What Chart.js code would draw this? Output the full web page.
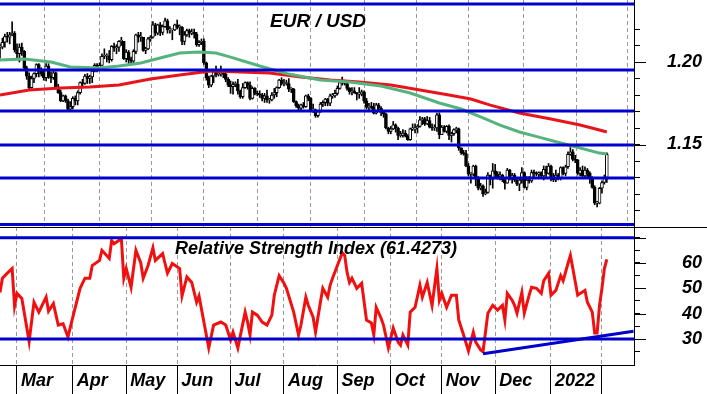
<!DOCTYPE html>
<html>
<head>
<meta charset="utf-8">
<script src="https://cdn.jsdelivr.net/npm/chart.js@4/dist/chart.umd.min.js"></script>
<style>
  html, body { margin: 0; padding: 0; background: #fff; }
  #wrap { position: relative; width: 707px; height: 394px; overflow: hidden; }
  #priceBox { position: absolute; left: 0; top: 0; width: 707px; height: 227px; }
  #rsiBox { position: absolute; left: 0; top: 227px; width: 707px; height: 167px; }
</style>
</head>
<body>
<div id="wrap">
  <div id="priceBox"><canvas id="priceChart" width="707" height="227"></canvas></div>
  <div id="rsiBox"><canvas id="rsiChart" width="707" height="167"></canvas></div>
</div>
<script>
// trading day index: 0 = 18 Feb 2021 ... 250 = 3 Feb 2022
const monthStarts = [7, 30, 52, 73, 95, 117, 139, 161, 182, 204, 227, 248];
const monthLabels = ['Mar', 'Apr', 'May', 'Jun', 'Jul', 'Aug', 'Sep', 'Oct', 'Nov', 'Dec', '2022', ''];

// daily EUR/USD, one row per month
const close = [
  1.2090, 1.2120, 1.2155, 1.2150, 1.2165, 1.2175, 1.2075,
  1.2050, 1.2090, 1.2065, 1.1965, 1.1915, 1.1845, 1.1900, 1.1930, 1.1985, 1.1950, 1.1930, 1.1905, 1.1975, 1.1915, 1.1905, 1.1935, 1.1850, 1.1815, 1.1765, 1.1795, 1.1765, 1.1715, 1.1730,
  1.1780, 1.1765, 1.1815, 1.1875, 1.1870, 1.1915, 1.1900, 1.1910, 1.1945, 1.1980, 1.1965, 1.1980, 1.2035, 1.2035, 1.2035, 1.2015, 1.2095, 1.2085, 1.2090, 1.2125, 1.2125, 1.2020,
  1.2060, 1.2015, 1.2005, 1.2065, 1.2165, 1.2150, 1.2150, 1.2070, 1.2080, 1.2140, 1.2150, 1.2225, 1.2175, 1.2225, 1.2180, 1.2215, 1.2250, 1.2195, 1.2195, 1.2195, 1.2225,
  1.2210, 1.2210, 1.2125, 1.2165, 1.2190, 1.2175, 1.2180, 1.2170, 1.2105, 1.2120, 1.2125, 1.1995, 1.1905, 1.1860, 1.1915, 1.1940, 1.1925, 1.1930, 1.1935, 1.1925, 1.1895, 1.1860,
  1.1850, 1.1865, 1.1865, 1.1825, 1.1790, 1.1845, 1.1875, 1.1860, 1.1780, 1.1840, 1.1810, 1.1805, 1.1800, 1.1780, 1.1795, 1.1770, 1.1770, 1.1800, 1.1815, 1.1845, 1.1890, 1.1870,
  1.1870, 1.1870, 1.1835, 1.1835, 1.1760, 1.1735, 1.1720, 1.1740, 1.1730, 1.1795, 1.1780, 1.1710, 1.1710, 1.1675, 1.1700, 1.1745, 1.1755, 1.1775, 1.1750, 1.1795, 1.1795, 1.1810,
  1.1840, 1.1875, 1.1880, 1.1870, 1.1840, 1.1820, 1.1825, 1.1815, 1.1805, 1.1805, 1.1820, 1.1765, 1.1725, 1.1730, 1.1725, 1.1690, 1.1740, 1.1720, 1.1695, 1.1685, 1.1600, 1.1580,
  1.1595, 1.1620, 1.1600, 1.1555, 1.1555, 1.1570, 1.1550, 1.1530, 1.1595, 1.1595, 1.1600, 1.1610, 1.1650, 1.1655, 1.1625, 1.1645, 1.1605, 1.1600, 1.1600, 1.1680, 1.1560,
  1.1605, 1.1580, 1.1610, 1.1555, 1.1565, 1.1590, 1.1595, 1.1480, 1.1450, 1.1445, 1.1370, 1.1320, 1.1320, 1.1370, 1.1290, 1.1235, 1.1250, 1.1200, 1.1210, 1.1315, 1.1290, 1.1340,
  1.1320, 1.1305, 1.1315, 1.1285, 1.1265, 1.1345, 1.1290, 1.1315, 1.1285, 1.1260, 1.1285, 1.1330, 1.1240, 1.1285, 1.1280, 1.1330, 1.1325, 1.1320, 1.1330, 1.1310, 1.1350, 1.1325, 1.1370,
  1.1295, 1.1285, 1.1315, 1.1295, 1.1360, 1.1325, 1.1365, 1.1440, 1.1455, 1.1410, 1.1405, 1.1325, 1.1345, 1.1310, 1.1345, 1.1325, 1.1300, 1.1240, 1.1145, 1.1145, 1.1235,
  1.1270, 1.1300, 1.1440
];
const high = [
  1.2110, 1.2145, 1.2170, 1.2180, 1.2180, 1.2243, 1.2185,
  1.2110, 1.2110, 1.2115, 1.2070, 1.1975, 1.1935, 1.1915, 1.1935, 1.1990, 1.1990, 1.1965, 1.1950, 1.1990, 1.1990, 1.1940, 1.1945, 1.1940, 1.1865, 1.1830, 1.1800, 1.1800, 1.1775, 1.1760,
  1.1790, 1.1795, 1.1825, 1.1880, 1.1895, 1.1925, 1.1930, 1.1920, 1.1955, 1.1990, 1.1990, 1.1995, 1.2050, 1.2080, 1.2050, 1.2070, 1.2100, 1.2115, 1.2105, 1.2130, 1.2150, 1.2125,
  1.2075, 1.2070, 1.2030, 1.2075, 1.2170, 1.2180, 1.2180, 1.2150, 1.2090, 1.2150, 1.2160, 1.2245, 1.2235, 1.2230, 1.2240, 1.2225, 1.2266, 1.2260, 1.2215, 1.2200, 1.2230,
  1.2255, 1.2225, 1.2215, 1.2185, 1.2200, 1.2200, 1.2200, 1.2200, 1.2180, 1.2130, 1.2140, 1.2140, 1.2000, 1.1915, 1.1920, 1.1955, 1.1975, 1.1950, 1.1975, 1.1950, 1.1935, 1.1905,
  1.1885, 1.1880, 1.1880, 1.1895, 1.1830, 1.1870, 1.1880, 1.1880, 1.1880, 1.1850, 1.1845, 1.1825, 1.1825, 1.1810, 1.1810, 1.1830, 1.1780, 1.1815, 1.1840, 1.1850, 1.1895, 1.1905,
  1.1895, 1.1890, 1.1900, 1.1845, 1.1840, 1.1765, 1.1745, 1.1745, 1.1755, 1.1800, 1.1805, 1.1785, 1.1745, 1.1715, 1.1705, 1.1755, 1.1765, 1.1780, 1.1780, 1.1805, 1.1810, 1.1830,
  1.1855, 1.1885, 1.1909, 1.1890, 1.1880, 1.1845, 1.1845, 1.1845, 1.1815, 1.1845, 1.1830, 1.1825, 1.1780, 1.1750, 1.1755, 1.1750, 1.1750, 1.1750, 1.1730, 1.1705, 1.1690, 1.1605,
  1.1610, 1.1640, 1.1625, 1.1605, 1.1580, 1.1590, 1.1585, 1.1560, 1.1600, 1.1625, 1.1625, 1.1620, 1.1670, 1.1665, 1.1665, 1.1670, 1.1665, 1.1625, 1.1620, 1.1690, 1.1692,
  1.1615, 1.1615, 1.1615, 1.1620, 1.1575, 1.1595, 1.1605, 1.1600, 1.1480, 1.1465, 1.1465, 1.1385, 1.1330, 1.1375, 1.1375, 1.1305, 1.1265, 1.1255, 1.1230, 1.1330, 1.1315, 1.1385,
  1.1380, 1.1335, 1.1335, 1.1320, 1.1300, 1.1355, 1.1350, 1.1325, 1.1325, 1.1300, 1.1300, 1.1360, 1.1335, 1.1305, 1.1305, 1.1345, 1.1345, 1.1335, 1.1335, 1.1335, 1.1370, 1.1370, 1.1385,
  1.1375, 1.1325, 1.1345, 1.1325, 1.1365, 1.1365, 1.1375, 1.1455, 1.1482, 1.1470, 1.1435, 1.1410, 1.1360, 1.1370, 1.1365, 1.1355, 1.1335, 1.1305, 1.1250, 1.1155, 1.1240,
  1.1280, 1.1315, 1.1450
];
const low = [
  1.2023, 1.2080, 1.2090, 1.2120, 1.2110, 1.2160, 1.2060,
  1.2020, 1.2000, 1.2040, 1.1960, 1.1895, 1.1835, 1.1840, 1.1875, 1.1910, 1.1910, 1.1915, 1.1890, 1.1885, 1.1900, 1.1875, 1.1895, 1.1840, 1.1810, 1.1760, 1.1760, 1.1755, 1.1705, 1.1704,
  1.1715, 1.1740, 1.1740, 1.1805, 1.1850, 1.1865, 1.1870, 1.1870, 1.1875, 1.1940, 1.1940, 1.1950, 1.1980, 1.2020, 1.2000, 1.1995, 1.2005, 1.2065, 1.2050, 1.2065, 1.2100, 1.2015,
  1.2000, 1.1985, 1.1995, 1.1995, 1.2050, 1.2120, 1.2125, 1.2065, 1.2050, 1.2075, 1.2125, 1.2145, 1.2160, 1.2165, 1.2160, 1.2165, 1.2210, 1.2175, 1.2175, 1.2135, 1.2190,
  1.2200, 1.2165, 1.2105, 1.2105, 1.2155, 1.2150, 1.2165, 1.2145, 1.2095, 1.2095, 1.2105, 1.1985, 1.1890, 1.1845, 1.1850, 1.1875, 1.1910, 1.1915, 1.1915, 1.1905, 1.1880, 1.1850,
  1.1810, 1.1805, 1.1850, 1.1805, 1.1780, 1.1780, 1.1840, 1.1835, 1.1770, 1.1775, 1.1800, 1.1795, 1.1785, 1.1765, 1.1755, 1.1755, 1.1750, 1.1765, 1.1780, 1.1790, 1.1840, 1.1860,
  1.1855, 1.1860, 1.1820, 1.1815, 1.1755, 1.1725, 1.1705, 1.1705, 1.1720, 1.1725, 1.1765, 1.1705, 1.1695, 1.1665, 1.1665, 1.1695, 1.1730, 1.1735, 1.1735, 1.1735, 1.1780, 1.1785,
  1.1800, 1.1835, 1.1860, 1.1860, 1.1830, 1.1805, 1.1800, 1.1810, 1.1770, 1.1780, 1.1795, 1.1750, 1.1715, 1.1700, 1.1715, 1.1685, 1.1685, 1.1705, 1.1675, 1.1665, 1.1595, 1.1565,
  1.1565, 1.1590, 1.1575, 1.1530, 1.1545, 1.1545, 1.1545, 1.1525, 1.1525, 1.1585, 1.1570, 1.1570, 1.1605, 1.1620, 1.1615, 1.1620, 1.1600, 1.1585, 1.1585, 1.1580, 1.1535,
  1.1560, 1.1575, 1.1570, 1.1530, 1.1515, 1.1555, 1.1570, 1.1465, 1.1440, 1.1435, 1.1365, 1.1310, 1.1265, 1.1310, 1.1250, 1.1225, 1.1225, 1.1186, 1.1195, 1.1205, 1.1255, 1.1235,
  1.1300, 1.1290, 1.1285, 1.1275, 1.1230, 1.1265, 1.1285, 1.1265, 1.1275, 1.1250, 1.1220, 1.1265, 1.1235, 1.1225, 1.1265, 1.1270, 1.1305, 1.1310, 1.1305, 1.1300, 1.1285, 1.1300, 1.1320,
  1.1280, 1.1275, 1.1275, 1.1285, 1.1285, 1.1315, 1.1310, 1.1355, 1.1435, 1.1400, 1.1390, 1.1315, 1.1310, 1.1300, 1.1300, 1.1295, 1.1265, 1.1235, 1.1135, 1.1121, 1.1140,
  1.1205, 1.1260, 1.1270
];

// moving averages
const maFastDays = [0, 10, 21, 29, 41, 49, 58, 66, 74, 82, 89, 95, 107, 119, 132, 144, 157, 169, 181, 190, 198, 206, 214, 222, 231, 239, 247, 250];
const maFast = [1.2012, 1.2018, 1.2000, 1.1970, 1.1964, 1.1976, 1.1994, 1.2024, 1.2055, 1.2061, 1.2055, 1.2030, 1.1976, 1.1927, 1.1891, 1.1879, 1.1855, 1.1812, 1.1752, 1.1715, 1.1667, 1.1618, 1.1576, 1.1545, 1.1509, 1.1479, 1.1448, 1.1442];
const maSlowDays = [0, 12, 25, 37, 49, 62, 74, 87, 99, 111, 124, 136, 148, 161, 173, 185, 194, 202, 214, 227, 239, 247, 250];
const maSlow = [1.1800, 1.1830, 1.1842, 1.1848, 1.1861, 1.1897, 1.1921, 1.1945, 1.1939, 1.1933, 1.1909, 1.1891, 1.1879, 1.1861, 1.1830, 1.1800, 1.1776, 1.1739, 1.1691, 1.1655, 1.1618, 1.1588, 1.1576];

const priceLevels = [1.2352, 1.1952, 1.1703, 1.1497, 1.1297, 1.1015];
const priceTicks = [1.11, 1.12, 1.13, 1.14, 1.15, 1.16, 1.17, 1.18, 1.19, 1.20, 1.21, 1.22];
const priceTickLabels = ['', '', '', '', '1.15', '', '', '', '', '1.20', '', ''];
const priceMajor = [1.15, 1.20];

const rsiDays = [
  0, 1, 3, 5, 6, 7, 9, 12, 14, 16,
  19, 20, 22, 24, 26, 28, 30, 33, 35, 37,
  38, 41, 42, 45, 46, 47, 50, 51, 52, 54,
  56, 58, 59, 61, 63, 64, 67, 68, 69, 71,
  74, 75, 77, 79, 81, 82, 84, 86, 88, 91,
  93, 95, 96, 98, 101, 102, 103, 104, 106, 108,
  110, 112, 113, 115, 117, 118, 121, 123, 124, 126,
  127, 129, 130, 132, 133, 135, 136, 137, 139, 141,
  142, 143, 144, 145, 147, 149, 151, 153, 154, 155,
  157, 158, 160, 162, 164, 165, 166, 168, 169, 171,
  173, 174, 176, 178, 180, 181, 182, 184, 186, 188,
  189, 191, 193, 195, 196, 198, 199, 201, 203, 205,
  207, 208, 209, 211, 212, 213, 215, 216, 218, 219,
  221, 223, 224, 226, 227, 229, 231, 232, 234, 235,
  236, 238, 239, 241, 242, 244, 245, 246, 247, 248,
  249, 250
];
const rsiValues = [
  48.4, 54, 56, 57.8, 43, 48, 46, 29, 44.5, 40.6,
  46.5, 41, 44, 35.5, 36, 30.8, 38.6, 50, 54, 54,
  59, 61, 65, 61.8, 68.8, 67.6, 69.6, 54, 57.8, 50.4,
  65, 60, 54, 59, 66, 61, 63.7, 59.8, 56, 59.8,
  57.8, 47, 54.5, 52.3, 44.5, 47, 36.7, 26.5, 35.5, 36.7,
  35.5, 29.6, 32.7, 26.5, 40.6, 36.7, 31.6, 40.6, 39.4, 36.7,
  35.5, 39.4, 47.3, 55, 52, 50, 40.6, 31.6, 35.5, 46.5,
  43.3, 38.6, 32.7, 44.5, 50, 46.5, 51.2, 54, 59, 64,
  63, 56.3, 52.3, 54, 50, 52, 37.5, 36.3, 31.6, 42.5,
  38.2, 35.5, 26.5, 34.3, 28.8, 27.6, 31.6, 27.6, 40.6, 42.5,
  51.2, 46.5, 52.3, 43.3, 57.8, 45.3, 48, 42.5, 47.3, 47.3,
  37.5, 31.6, 25.3, 32.7, 28.8, 25.7, 25, 40.2, 43.3, 41.4,
  43.3, 37.5, 48, 45.3, 43.3, 40.2, 48.4, 40.2, 47.3, 50.4,
  50, 48, 53, 55.9, 47.3, 49.2, 55, 53, 59.8, 63,
  57.8, 47.3, 48, 49.2, 44.5, 40.6, 32.4, 32.4, 43.3, 50,
  57.8, 61.43
];
const rsiLevels = [70, 30];
const rsiTrendDays = [199, 261];
const rsiTrendValues = [24.2, 33.1];
const rsiTicks = [25, 30, 35, 40, 45, 50, 55, 60, 65, 70];
const rsiTickLabels = ['', '30', '', '40', '', '50', '', '60', '', ''];
const rsiMajor = [30, 40, 50, 60, 70];

const X_MAX = 261.2;
const BLUE = '#0000cd';
const RED = '#e8141b';
const GREEN = '#55b37c';
const FONT = { family: '"Liberation Sans", Arial, sans-serif', size: 18, weight: 'bold', style: 'italic' };

const open = close.map((c, i) => i === 0 ? c : close[i - 1]);

// chart.js adds tick padding to the vertical padding of an axis, drop it
function noPadding(s) {
  s.paddingTop = 0; s.paddingBottom = 0; s.paddingLeft = 0; s.paddingRight = 0;
}

function xScale(withLabels) {
  return {
    type: 'linear', min: 0, max: X_MAX, offset: false,
    afterBuildTicks: s => { s.ticks = monthStarts.map(v => ({ value: v })); },
    afterFit: s => { s.height = withLabels ? 29 : 0; noPadding(s); },
    grid: {
      display: true, drawOnChartArea: true, color: '#9a9a9a', lineWidth: 1,
      drawTicks: withLabels, tickLength: 29, tickColor: '#000', tickWidth: 1, tickBorderDash: []
    },
    border: { display: withLabels, color: '#000', width: 1, dash: [4, 3] },
    ticks: {
      display: withLabels, autoSkip: false, maxRotation: 0, minRotation: 0,
      align: 'start', labelOffset: 4, padding: -24, color: '#000', font: FONT,
      callback: (v, i) => monthLabels[i]
    }
  };
}

function yScale(min, max, ticks, labels, pad) {
  return {
    type: 'linear', position: 'right', min, max,
    afterBuildTicks: s => { s.ticks = ticks.map(v => ({ value: v })); },
    afterFit: s => { s.width = 73; noPadding(s); },
    grid: { drawOnChartArea: false, drawTicks: true, tickLength: 6, color: '#000', tickColor: '#000' },
    border: { display: true, color: '#000', width: 1 },
    ticks: {
      autoSkip: false, padding: pad, crossAlign: 'near', color: '#000', font: FONT,
      callback: (v, i) => labels[i]
    }
  };
}

function levelLines(levels) {
  return levels.map(lv => ({
    type: 'line', data: [{ x: 0, y: lv }, { x: X_MAX, y: lv }],
    borderColor: BLUE, borderWidth: 3, pointRadius: 0, order: 0
  }));
}

function decor(id, title, tx, ty, tsize, majors, topRule) {
  return {
    id,
    afterDatasetsDraw(chart) {
      const ctx = chart.ctx;
      ctx.save();
      ctx.fillStyle = '#000';
      ctx.font = 'italic bold ' + tsize + 'px "Liberation Sans", Arial, sans-serif';
      ctx.textBaseline = 'alphabetic';
      ctx.fillText(title, tx, ty);
      ctx.restore();
    },
    afterDraw(chart) {
      const ctx = chart.ctx;
      const y = chart.scales.y;
      ctx.save();
      ctx.strokeStyle = '#000';
      ctx.lineWidth = 1;
      majors.forEach(v => {
        const py = Math.round(y.getPixelForValue(v)) + 0.5;
        ctx.beginPath();
        ctx.moveTo(y.left, py);
        ctx.lineTo(y.left + 12, py);
        ctx.stroke();
      });
      if (topRule) {
        ctx.beginPath();
        ctx.moveTo(0, 0.5);
        ctx.lineTo(chart.width, 0.5);
        ctx.stroke();
      }
      ctx.restore();
    }
  };
}

const common = {
  responsive: false, animation: false, events: [],
  layout: { padding: 0 },
  plugins: { legend: { display: false }, tooltip: { enabled: false } }
};

new Chart(document.getElementById('priceChart'), {
  type: 'line',
  data: {
    datasets: [
      ...levelLines(priceLevels),
      {
        type: 'line', data: maFastDays.map((d, i) => ({ x: d, y: maFast[i] })),
        borderColor: GREEN, borderWidth: 3, pointRadius: 0, order: 1
      },
      {
        type: 'line', data: maSlowDays.map((d, i) => ({ x: d, y: maSlow[i] })),
        borderColor: RED, borderWidth: 3, pointRadius: 0, order: 2
      },
      {
        type: 'bar', data: close.map((c, i) => ({ x: i, y: [open[i], c] })),
        backgroundColor: ctx => (ctx.dataIndex !== undefined && close[ctx.dataIndex] >= open[ctx.dataIndex]) ? '#fff' : '#000',
        borderColor: '#000', borderWidth: 1, borderSkipped: false,
        barThickness: 3, minBarLength: 1, grouped: false, order: 3
      },
      {
        type: 'bar', data: close.map((c, i) => ({ x: i, y: [low[i], high[i]] })),
        backgroundColor: '#000', barThickness: 1, grouped: false, order: 4
      }
    ]
  },
  options: {
    ...common,
    scales: {
      x: xScale(false),
      y: yScale(1.1000, 1.2376, priceTicks, priceTickLabels, 27)
    }
  },
  plugins: [decor('priceDecor', 'EUR / USD', 270, 27, 19, priceMajor, false)]
});

new Chart(document.getElementById('rsiChart'), {
  type: 'line',
  data: {
    datasets: [
      ...levelLines(rsiLevels),
      {
        type: 'line', data: rsiTrendDays.map((d, i) => ({ x: d, y: rsiTrendValues[i] })),
        borderColor: BLUE, borderWidth: 3, pointRadius: 0, order: 0
      },
      {
        type: 'line', data: rsiDays.map((d, i) => ({ x: d, y: rsiValues[i] })),
        borderColor: '#f01010', borderWidth: 3, pointRadius: 0, order: 1
      }
    ]
  },
  options: {
    ...common,
    scales: {
      x: xScale(true),
      y: yScale(19.74, 74.2, rsiTicks, rsiTickLabels, 42)
    }
  },
  plugins: [decor('rsiDecor', 'Relative Strength Index (61.4273)', 175, 27, 18, rsiMajor, true)]
});
</script>
</body>
</html>
